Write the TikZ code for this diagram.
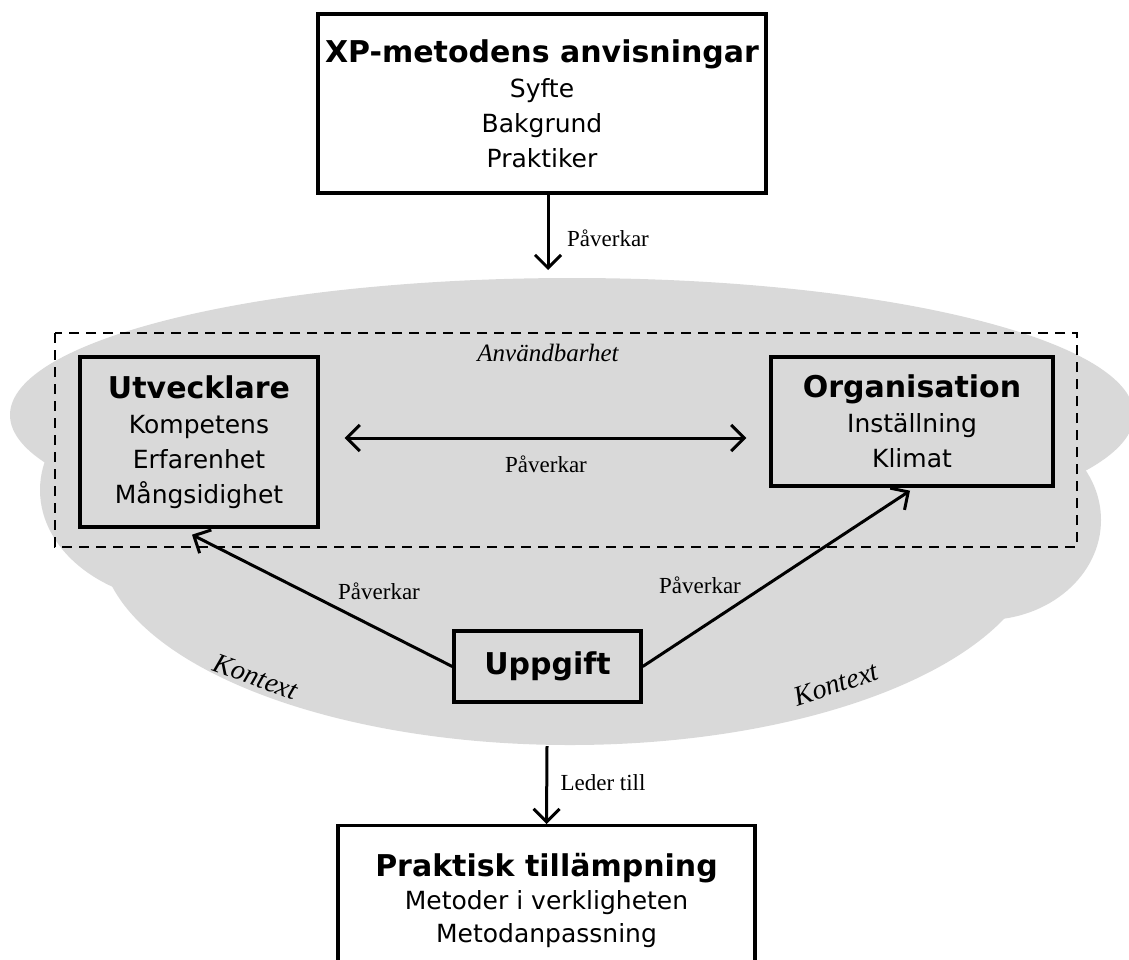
\documentclass[tikz,border=0pt]{standalone}
\usepackage{fontspec}
\setmainfont{Liberation Serif}
\newfontfamily\boxfont{DejaVu Sans}
\usetikzlibrary{arrows.meta,calc}
\definecolor{cloudgray}{RGB}{217,217,217}
\newcommand\boxtitle[1]{{\bfseries\fontsize{30}{35}\selectfont #1}}
\begin{document}
\begin{tikzpicture}[x=1pt,y=-1pt,
  box/.style={draw=black, line width=3.4pt, font=\boxfont\fontsize{25}{35}\selectfont, align=center, inner sep=0pt},
  arr/.style={line width=3pt, -{Straight Barb[length=13pt,width=26pt]}},
  dblarr/.style={line width=3pt, {Straight Barb[length=13pt,width=26pt]}-{Straight Barb[length=13pt,width=26pt]}},
  lbl/.style={font=\fontsize{23}{26}\selectfont, inner sep=0pt},
  ctx/.style={font=\itshape\fontsize{28}{30}\selectfont, inner sep=0pt}]
\useasboundingbox (0,0) rectangle (1129,959);
\begin{scope}
\clip (0,0) rectangle (1129,959);
% cloud
\fill[cloudgray] (572,415) ellipse [x radius=562, y radius=137];
\fill[cloudgray] (190,490) ellipse [x radius=150, y radius=113];
\fill[cloudgray] (985,520) ellipse [x radius=116, y radius=100];
\fill[cloudgray] (570,540) ellipse [x radius=470, y radius=205];
% dashed frame
\draw[line width=1.6pt, dash pattern=on 10pt off 7pt] (55,333) rectangle (1077,547);
\node[font=\itshape\fontsize{25}{28}\selectfont, inner sep=0pt] (anv) at (548,353) {Användbarhet};
% boxes
\node[box, fill=white, minimum width=448pt, minimum height=179pt] (xp) at (542,103.5)
  {\boxtitle{XP-metodens anvisningar}\\Syfte\\Bakgrund\\Praktiker};
\node[box, fill=cloudgray, minimum width=238pt, minimum height=170pt] (utv) at (199,442)
  {\boxtitle{Utvecklare}\\Kompetens\\Erfarenhet\\Mångsidighet};
\node[box, fill=cloudgray, minimum width=282pt, minimum height=129pt] (org) at (912,421.5)
  {\boxtitle{Organisation}\\Inställning\\Klimat};
\node[box, fill=cloudgray, minimum width=187pt, minimum height=71pt] (upp) at (547.5,666.5)
  {\boxtitle{Uppgift}};
\node[box, fill=white, minimum width=417pt, minimum height=180pt, anchor=north] (prak) at (546.5,824) {};
\node[font=\boxfont\fontsize{25}{33}\selectfont, align=center, inner sep=0pt] (praktxt) at (546.5,900)
  {\boxtitle{Praktisk tillämpning}\\Metoder i verkligheten\\Metodanpassning};
% connectors
\coordinate (cloudtop) at (548,270);
\coordinate (cloudbot) at (547,746);
\coordinate (rowy) at (0,438);
\draw[arr] ($(xp.south)+(6,0)$) -- (cloudtop);
\draw[dblarr] ($(utv.east |- rowy)+(25,0)$) -- ($(org.west |- rowy)+(-23,0)$);
\draw[arr] (upp.west) -- ($(utv.south)+(-7,6)$);
\draw[arr] (upp.east) -- ($(org.south)+(-2,3)$);
\draw[arr] (cloudbot) -- (prak.north);
% labels
\node[lbl] (l1) at (608,238) {Påverkar};
\node[lbl] (l2) at (546,464) {Påverkar};
\node[lbl] (l3) at (379,591) {Påverkar};
\node[lbl] (l4) at (700,585) {Påverkar};
\node[lbl] (l5) at (603,783) {Leder till};
\node[ctx, rotate=-20] (k1) at (256,677) {Kontext};
\node[ctx, rotate=18] (k2) at (836,684) {Kontext};
\end{scope}
\end{tikzpicture}
\end{document}
